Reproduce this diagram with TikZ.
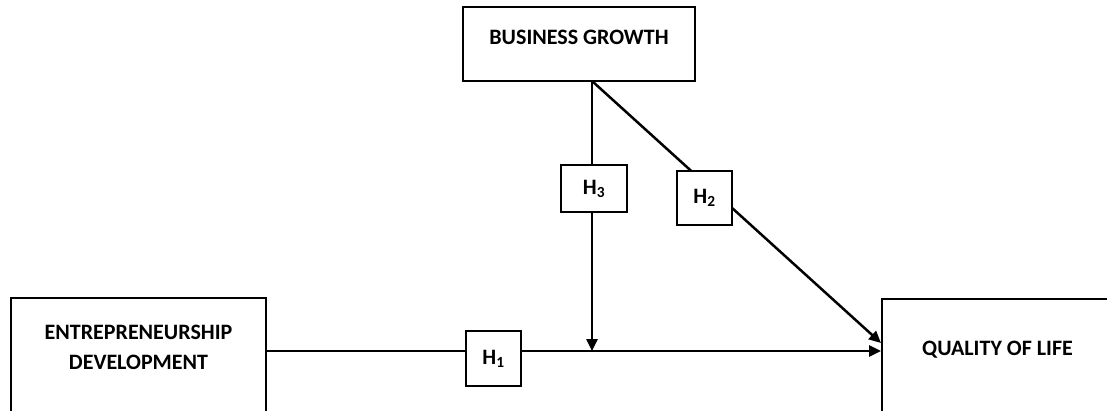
\documentclass[tikz,border=0pt]{standalone}
\usepackage{fontspec}
\setmainfont{Carlito}
\usetikzlibrary{arrows.meta,backgrounds}
\begin{document}
\begin{tikzpicture}[x=1pt,y=-1pt,
  lbl/.style={font=\fontsize{22}{30}\selectfont\bfseries},
  bigbox/.style={draw=black,line width=2pt,fill=white,inner xsep=0pt,lbl,align=center},
  hbox/.style={draw=black,line width=2pt,fill=white,inner sep=0pt,lbl},
  link/.style={line width=2.5pt},
  arr/.style={link,-{Triangle[length=12pt,width=11pt]}}]
\useasboundingbox (0,0) rectangle (1107,410);
\clip (0,0) rectangle (1107,410);
% main boxes
\node[bigbox,minimum width=232pt,minimum height=74pt,text height=14pt,text depth=14pt] (bg) at (579,44) {BUSINESS GROWTH};
\node[bigbox,anchor=north,minimum width=255pt,inner ysep=28pt,text height=43.5pt,text depth=120pt] (ed) at (138.5,297) {ENTREPRENEURSHIP\\DEVELOPMENT};
\node[bigbox,anchor=north west,minimum width=231pt,inner ysep=42pt,text height=14pt,text depth=120pt] (qol) at (881,298) {QUALITY OF LIFE};
% hypothesis boxes
\node[hbox,minimum width=66pt,minimum height=47pt] (h3) at (594,188.5) {H\textsubscript{3}};
\node[hbox,minimum width=55pt,minimum height=54pt] (h2) at (704.5,198) {H\textsubscript{2}};
\node[hbox,minimum width=55pt,minimum height=55pt] (h1) at (493.5,358.5) {H\textsubscript{1}};
% junction and ends
\coordinate (j) at (592,351);
\coordinate (top) at (592,81);
\coordinate (qa) at (qol.west |- j);
\coordinate (qb) at ([yshift=8pt]qa);
\begin{scope}[on background layer]
  \draw[arr] (ed.east |- j) -- (qa);
  \draw[arr] (top) -- (j);
  \draw[arr] (top) -- (qb);
\end{scope}
\end{tikzpicture}
\end{document}
